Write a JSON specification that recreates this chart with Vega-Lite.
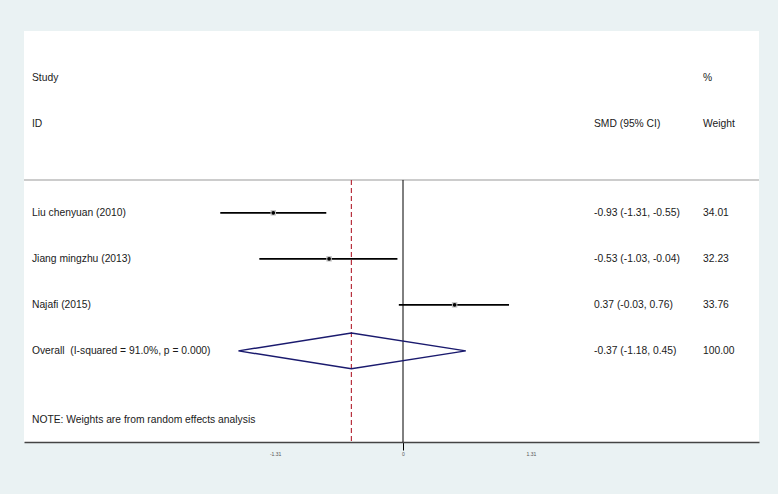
{
  "$schema": "https://vega.github.io/schema/vega-lite/v6.json",
  "width": 735,
  "height": 411,
  "autosize": {"type": "none"},
  "padding": {"left": 24, "top": 31, "right": 19, "bottom": 52},
  "background": "#eaf2f3",
  "config": {
    "view": {"fill": "white", "stroke": null},
    "text": {"font": "Liberation Sans"},
    "axis": {"title": null, "grid": false}
  },
  "datasets": {
    "studies": [
      {"study": "Liu chenyuan (2010)", "es": -0.93, "lo": -1.31, "hi": -0.55, "row": 2.93},
      {"study": "Jiang mingzhu (2013)", "es": -0.53, "lo": -1.03, "hi": -0.04, "row": 3.93},
      {"study": "Najafi (2015)", "es": 0.37, "lo": -0.03, "hi": 0.76, "row": 4.93}
    ],
    "cells": [
      {"x": -2.66, "row": 0, "label": "Study"},
      {"x": 2.151, "row": 0, "label": "%"},
      {"x": -2.66, "row": 1, "label": "ID"},
      {"x": 1.369, "row": 1, "label": "SMD (95% CI)"},
      {"x": 2.151, "row": 1, "label": "Weight"},
      {"x": -2.66, "row": 2.93, "label": "Liu chenyuan (2010)"},
      {"x": 1.369, "row": 2.93, "label": "-0.93 (-1.31, -0.55)"},
      {"x": 2.151, "row": 2.93, "label": "34.01"},
      {"x": -2.66, "row": 3.93, "label": "Jiang mingzhu (2013)"},
      {"x": 1.369, "row": 3.93, "label": "-0.53 (-1.03, -0.04)"},
      {"x": 2.151, "row": 3.93, "label": "32.23"},
      {"x": -2.66, "row": 4.93, "label": "Najafi (2015)"},
      {"x": 1.369, "row": 4.93, "label": "0.37 (-0.03, 0.76)"},
      {"x": 2.151, "row": 4.93, "label": "33.76"},
      {"x": -2.66, "row": 5.93, "label": "Overall\u00a0\u00a0(I-squared = 91.0%, p = 0.000)"},
      {"x": 1.369, "row": 5.93, "label": "-0.37 (-1.18, 0.45)"},
      {"x": 2.151, "row": 5.93, "label": "100.00"},
      {"x": -2.66, "row": 7.43, "label": "NOTE: Weights are from random effects analysis"}
    ],
    "diamond": [
      {"x": -1.18, "row": 5.93, "ord": 1},
      {"x": -0.37, "row": 5.54, "ord": 2},
      {"x": 0.45, "row": 5.93, "ord": 3},
      {"x": -0.37, "row": 6.32, "ord": 4},
      {"x": -1.18, "row": 5.93, "ord": 5}
    ]
  },
  "layer": [
    {
      "data": {"values": [{"x": -2.717, "x2": 2.552, "row": 2.217}]},
      "mark": {"type": "rule", "color": "#cccccc", "strokeWidth": 2},
      "encoding": {
        "x": {
          "field": "x", "type": "quantitative",
          "scale": {"domain": [-2.717, 2.552], "nice": false, "zero": false},
          "axis": {
            "values": [-0.917, 0, 0.917],
            "labelExpr": "datum.value < -0.5 ? '-1.31' : (datum.value > 0.5 ? '1.31' : '0')",
            "domainColor": "#444444",
            "domainWidth": 1.5,
            "tickColor": "#000000",
            "tickSize": 8,
            "tickWidth": 1,
            "tickOpacity": {"condition": {"test": "datum.value == 0", "value": 1}, "value": 0},
            "labelFontSize": 5,
            "labelColor": "#555555",
            "labelFont": "Liberation Sans",
            "labelPadding": 1,
            "title": null,
            "grid": false
          }
        },
        "x2": {"field": "x2"},
        "y": {
          "field": "row", "type": "quantitative",
          "scale": {"domain": [-1.02, 7.91], "reverse": true, "nice": false, "zero": false},
          "axis": null
        }
      }
    },
    {
      "data": {"values": [{"x": 0, "row": 2.217, "row2": 7.91}]},
      "mark": {"type": "rule", "color": "#000000", "strokeWidth": 1},
      "encoding": {
        "x": {"field": "x", "type": "quantitative"},
        "y": {"field": "row", "type": "quantitative", "axis": null},
        "y2": {"field": "row2"}
      }
    },
    {
      "data": {"values": [{"x": -0.37, "row": 2.217, "row2": 7.91}]},
      "mark": {"type": "rule", "color": "#b8323f", "strokeWidth": 1.2, "strokeDash": [5, 3]},
      "encoding": {
        "x": {"field": "x", "type": "quantitative"},
        "y": {"field": "row", "type": "quantitative", "axis": null},
        "y2": {"field": "row2"}
      }
    },
    {
      "data": {"name": "studies"},
      "mark": {"type": "rule", "color": "#000000", "strokeWidth": 1.8},
      "encoding": {
        "x": {"field": "lo", "type": "quantitative"},
        "x2": {"field": "hi"},
        "y": {"field": "row", "type": "quantitative", "axis": null}
      }
    },
    {
      "data": {"name": "studies"},
      "mark": {"type": "point", "shape": "square", "filled": true, "color": "#c4c4c4", "size": 30, "opacity": 1},
      "encoding": {
        "x": {"field": "es", "type": "quantitative"},
        "y": {"field": "row", "type": "quantitative", "axis": null}
      }
    },
    {
      "data": {"name": "studies"},
      "mark": {"type": "point", "shape": "circle", "filled": true, "color": "#000000", "size": 14, "opacity": 1},
      "encoding": {
        "x": {"field": "es", "type": "quantitative"},
        "y": {"field": "row", "type": "quantitative", "axis": null}
      }
    },
    {
      "data": {"name": "diamond"},
      "mark": {"type": "line", "color": "#1a1a6e", "strokeWidth": 1.5},
      "encoding": {
        "x": {"field": "x", "type": "quantitative"},
        "y": {"field": "row", "type": "quantitative", "axis": null},
        "order": {"field": "ord", "type": "quantitative"}
      }
    },
    {
      "data": {"name": "cells"},
      "mark": {"type": "text", "align": "left", "baseline": "middle", "fontSize": 10.3, "color": "#1a1a1a", "font": "Liberation Sans"},
      "encoding": {
        "x": {"field": "x", "type": "quantitative"},
        "y": {"field": "row", "type": "quantitative", "axis": null},
        "text": {"field": "label"}
      }
    }
  ]
}
